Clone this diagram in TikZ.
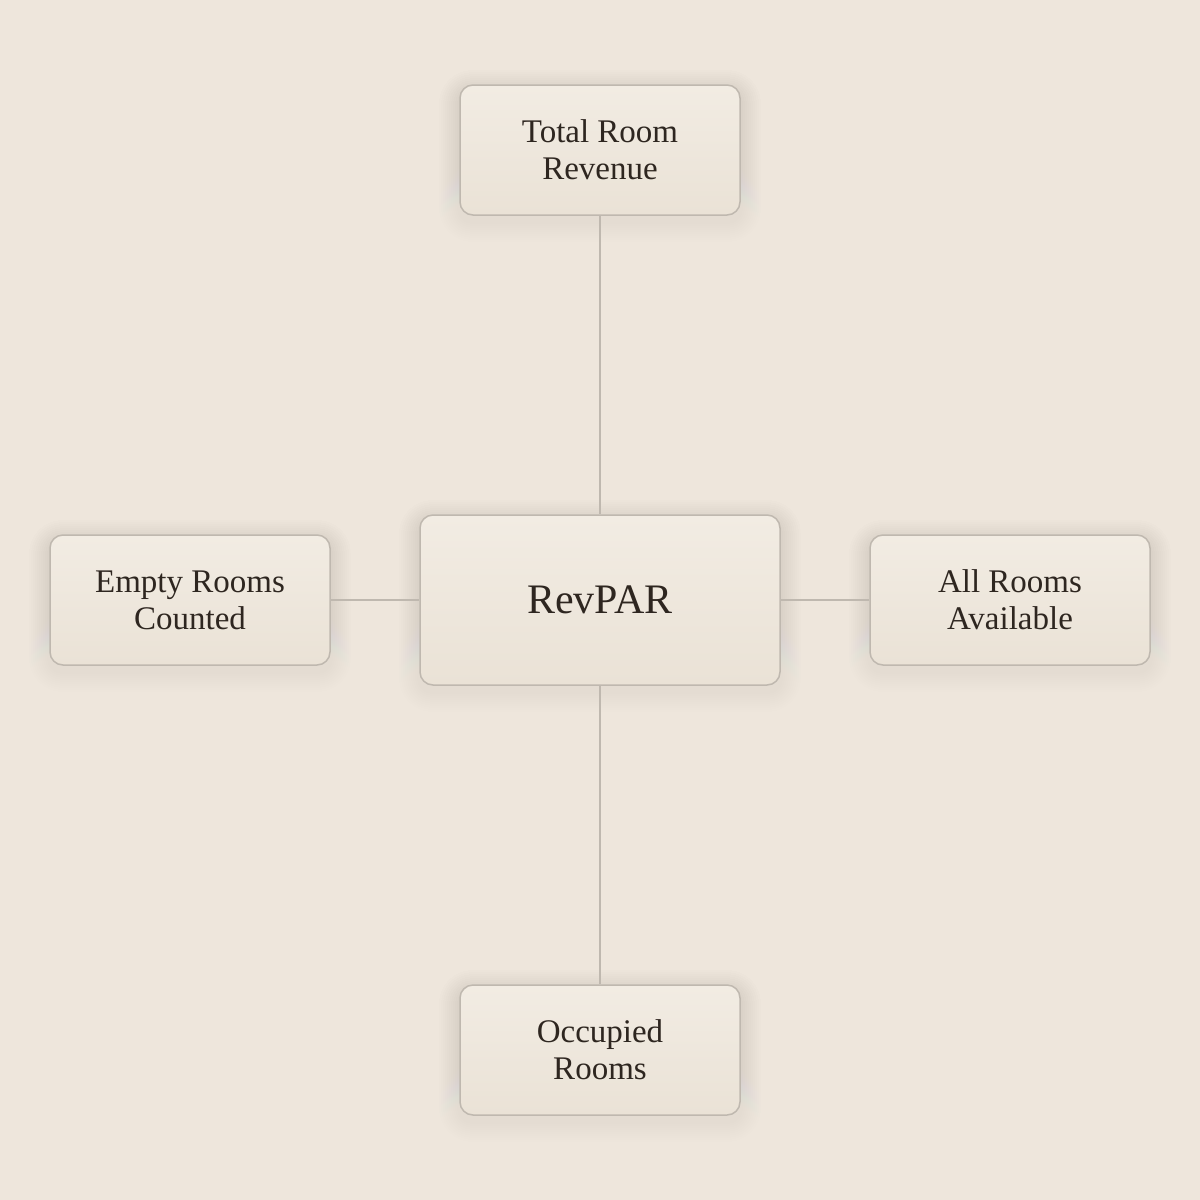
\documentclass[tikz,border=0pt]{standalone}
\usepackage{fontspec}
\setmainfont{Liberation Serif}
\usetikzlibrary{positioning,backgrounds}
\definecolor{paper}{HTML}{EEE6DC}
\definecolor{boxtop}{HTML}{F2ECE3}
\definecolor{boxbot}{HTML}{EAE2D6}
\definecolor{boxline}{HTML}{BFB8AF}
\definecolor{ink}{HTML}{2E2620}
\definecolor{shade}{HTML}{8A7A66}
\tikzset{
  term/.style={draw=boxline, line width=1.5pt, rounded corners=13pt,
    top color=boxtop, bottom color=boxbot, text=ink,
    minimum width=280pt, minimum height=130pt, align=center,
    font=\fontsize{33}{37}\selectfont},
  hub/.style={term, minimum width=360pt, minimum height=170pt,
    font=\fontsize{42}{48}\selectfont},
  link/.style={draw=boxline, line width=1.5pt}
}
\newcommand\softshadow[1]{%
  \foreach \g in {2,4,...,20}
    \fill[shade, opacity=0.004, rounded corners=13pt+\g pt]
      ([shift={(-\g,-\g+6)}]#1.north west) rectangle ([shift={(\g,\g+6)}]#1.south east);}
\begin{document}
\begin{tikzpicture}[x=1pt,y=-1pt]
  \useasboundingbox (0,0) rectangle (1200,1200);
  \node[hub] (revpar) at (600,600) {RevPAR};
  \node[term] (revenue) at (600,150) {Total Room\\Revenue};
  \node[term] (empty) at (190,600) {Empty Rooms\\Counted};
  \node[term] (available) at (1010,600) {All Rooms\\Available};
  \node[term] (occupied) at (600,1050) {Occupied\\Rooms};
  \draw[link] (revenue) -- (revpar);
  \draw[link] (empty) -- (revpar);
  \draw[link] (available) -- (revpar);
  \draw[link] (occupied) -- (revpar);
  \begin{scope}[on background layer]
    \fill[paper] (0,0) rectangle (1200,1200);
    \softshadow{revpar}
    \softshadow{revenue}
    \softshadow{empty}
    \softshadow{available}
    \softshadow{occupied}
  \end{scope}
\end{tikzpicture}
\end{document}
